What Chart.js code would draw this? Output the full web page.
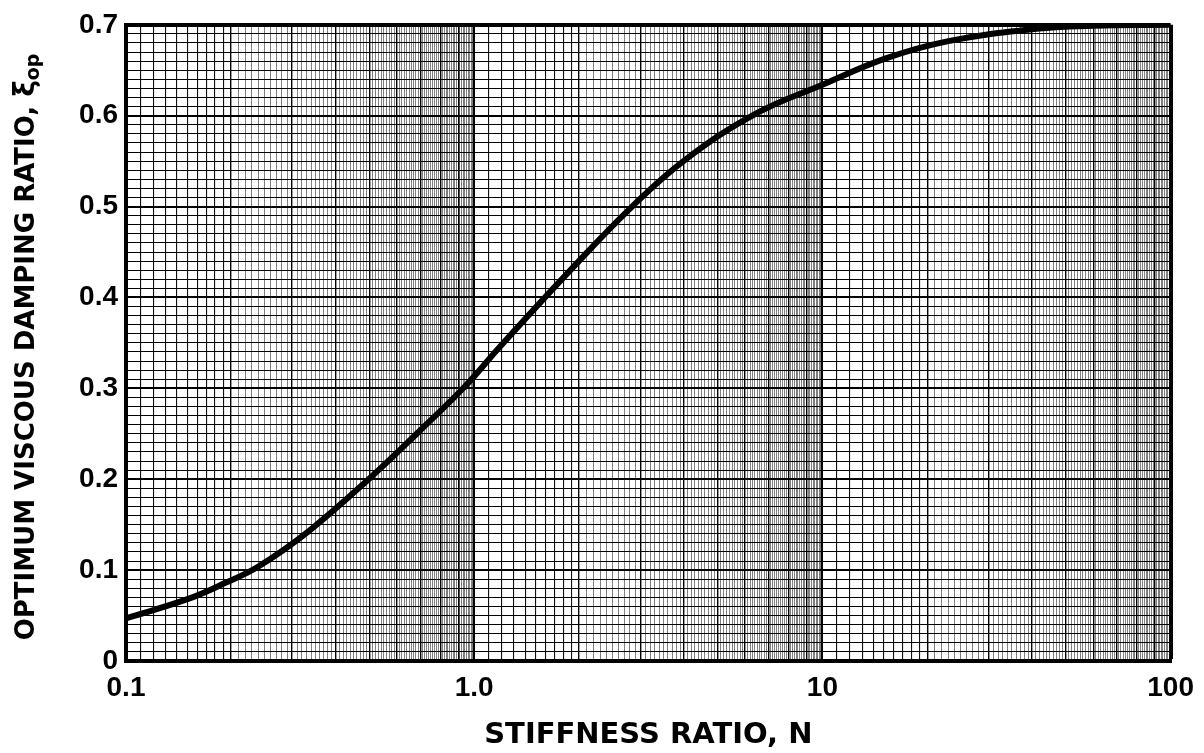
<!DOCTYPE html>
<html>
<head>
<meta charset="utf-8">
<script src="https://cdn.jsdelivr.net/npm/chart.js@4.4.1/dist/chart.umd.min.js"></script>
<style>
  html, body { margin: 0; padding: 0; background: #fff; }
  #wrap { width: 1204px; height: 753px; position: relative; }
</style>
</head>
<body>
<div id="wrap"><canvas id="canvas" width="1204" height="753"></canvas></div>
<script>
// Curve (stiffness ratio N vs optimum damping ratio)
const stiffness = [0.1, 0.15, 0.193, 0.24, 0.335, 0.504, 0.692, 0.94, 1.18, 1.91, 2.84, 4.05, 6.5, 10, 15.2, 23, 39.7, 60, 100];
const damping = [0.047, 0.068, 0.086, 0.104, 0.143, 0.202, 0.252, 0.302, 0.345, 0.432, 0.500, 0.552, 0.603, 0.634, 0.663, 0.682, 0.695, 0.699, 0.700];

// Axis ticks
const decades = [0.1, 1, 10, 100];
const xTickLabels = ['0.1', '1.0', '10', '100'];
const yMin = 0, yMax = 0.7, yStep = 0.01;

const FONT = '"Liberation Sans", Arial, sans-serif';
const TITLE_FONT = '"DejaVu Sans", sans-serif';

// log-paper rulings: every 0.1 of a unit inside each decade
function buildLogRulings() {
  const out = [];
  for (let d = 0; d < decades.length - 1; d++) {
    const base = decades[d];
    for (let m = 10; m < 100; m++) {
      out.push({ value: base * m / 10, m: m });
    }
  }
  out.push({ value: decades[decades.length - 1], m: 10 });
  return out;
}

function xLineStyle(tick) {
  const m = tick.m;
  if (m === undefined) return ['#000', 1];
  if (m === 10) return ['#000', 2];              // decade lines
  if (m < 20) return ['#111', 1.1];              // 1.1 .. 1.9
  if (m % 10 === 0) return ['#000', 1.4];        // 2, 3, ... 9
  return ['rgba(0,0,0,0.5)', 1];                 // fine rulings 2..10
}

const ctx = document.getElementById('canvas').getContext('2d');

// y title drawn by hand so the "op" can sit as a subscript
const yTitlePlugin = {
  id: 'yTitle',
  afterDraw(chart) {
    const c = chart.ctx;
    c.save();
    c.translate(27, 347);
    c.rotate(-Math.PI / 2);
    c.fillStyle = '#000';
    c.textBaseline = 'middle';
    const main = 'OPTIMUM VISCOUS DAMPING RATIO, ';
    c.font = 'bold 26px ' + TITLE_FONT;
    const w1 = c.measureText(main).width;
    c.font = 'bold 28px ' + TITLE_FONT;
    const w2 = c.measureText('ξ').width;
    c.font = 'bold 19px ' + TITLE_FONT;
    const w3 = c.measureText('op').width;
    let x = -(w1 + w2 + w3) / 2;
    c.font = 'bold 26px ' + TITLE_FONT;
    c.fillText(main, x, 0);
    x += w1;
    c.font = 'bold 28px ' + TITLE_FONT;
    c.fillText('ξ', x, 0);
    x += w2;
    c.font = 'bold 19px ' + TITLE_FONT;
    c.fillText('op', x, 7);
    c.restore();
  }
};

const chart = new Chart(ctx, {
  type: 'line',
  data: {
    datasets: [{
      data: stiffness.map((n, i) => ({ x: n, y: damping[i] })),
      borderColor: '#000',
      borderWidth: 6,
      pointRadius: 0,
      fill: false,
      tension: 0.4
    }]
  },
  options: {
    responsive: false,
    animation: false,
    devicePixelRatio: 1,
    layout: { padding: { top: 21, right: 31, bottom: 0, left: 0 } },
    plugins: {
      legend: { display: false },
      tooltip: { enabled: false }
    },
    scales: {
      x: {
        type: 'logarithmic',
        min: 0.1,
        max: 100,
        afterBuildTicks(scale) {
          scale.ticks = buildLogRulings();
        },
        afterFit(scale) { scale.height = 92; },
        ticks: {
          autoSkip: false,
          maxRotation: 0,
          padding: 10,
          color: '#000',
          font: { family: FONT, size: 28, weight: 'bold' },
          callback(value) {
            const i = decades.findIndex(d => Math.abs(d - value) < d * 1e-6);
            return i >= 0 ? xTickLabels[i] : '';
          }
        },
        grid: {
          drawTicks: false,
          color: c => xLineStyle(c.tick || {})[0],
          lineWidth: c => {
            if (c.tick && c.tick.value >= 99.99) return 4;
            return xLineStyle(c.tick || {})[1];
          }
        },
        border: { display: true, color: '#000', width: 4 },
        title: {
          display: true,
          text: 'STIFFNESS RATIO, N',
          color: '#000',
          font: { family: TITLE_FONT, size: 29, weight: 'bold' },
          padding: { top: 0, bottom: 0 }
        }
      },
      y: {
        type: 'linear',
        min: yMin,
        max: yMax,
        afterFit(scale) { scale.width = 126; },
        ticks: {
          stepSize: yStep,
          autoSkip: false,
          padding: 8,
          color: '#000',
          font: { family: FONT, size: 28, weight: 'bold' },
          callback(value) {
            const k = Math.round(value * 100);
            if (k % 10 !== 0) return '';
            return k === 0 ? '0' : (k / 100).toFixed(1);
          }
        },
        grid: {
          drawTicks: false,
          color: '#000',
          lineWidth: c => {
            const k = Math.round(c.tick.value * 100);
            if (k === 70) return 4;
            if (k % 10 === 0) return 2;
            return 1;
          }
        },
        border: { display: true, color: '#000', width: 4 }
      }
    }
  },
  plugins: [yTitlePlugin]
});
</script>
</body>
</html>
